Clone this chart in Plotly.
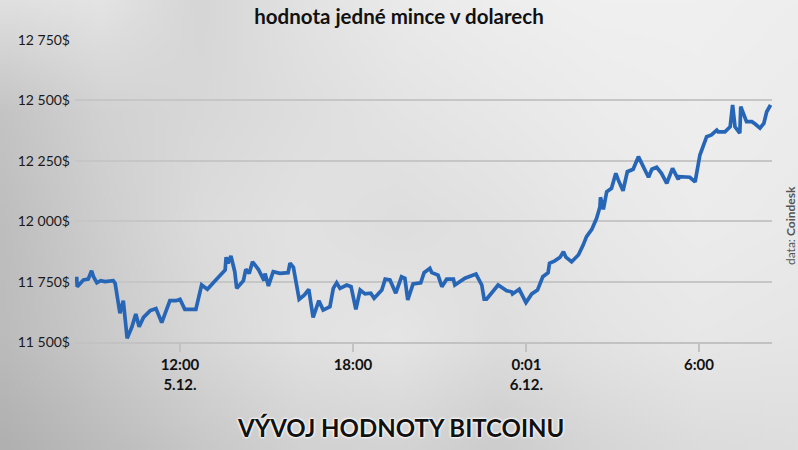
import base64, struct, zlib
import numpy as np
import plotly.graph_objects as go

# ---------------- data ----------------
times_d1 = ["08:25", "08:26", "08:39", "08:49", "08:56", "09:00", "09:07", "09:15", "09:24", "09:41",
            "09:45", "09:55", "10:02", "10:10", "10:20", "10:28", "10:35", "10:44", "10:58", "11:10",
            "11:22", "11:39", "11:52", "12:00", "12:10", "12:33", "12:45", "12:57", "13:16", "13:34",
            "13:36", "13:40", "13:46", "13:54", "13:58", "14:12", "14:17", "14:24", "14:31", "14:43",
            "14:55", "14:57", "15:04", "15:14", "15:28", "15:45", "15:49", "15:56", "16:08", "16:19",
            "16:28", "16:37", "16:49", "16:58", "17:12", "17:19", "17:26", "17:33", "17:47", "17:56",
            "18:06", "18:15", "18:25", "18:37", "18:44", "19:00", "19:07", "19:17", "19:29", "19:41",
            "19:48", "19:54", "20:05", "20:21", "20:28", "20:40", "20:44", "20:57", "21:05", "21:15",
            "21:29", "21:32", "21:53", "22:16", "22:28", "22:33", "22:38", "23:02", "23:20", "23:30",
            "23:32", "23:46"]
prices_d1 = [11770, 11729, 11757, 11760, 11795, 11770, 11745, 11754, 11750, 11754,
             11743, 11619, 11671, 11515, 11563, 11616, 11563, 11602, 11630, 11638,
             11580, 11671, 11671, 11677, 11635, 11635, 11736, 11718, 11760, 11798,
             11851, 11826, 11856, 11791, 11722, 11754, 11801, 11784, 11832, 11801,
             11754, 11784, 11732, 11791, 11784, 11787, 11826, 11809, 11677, 11695,
             11718, 11602, 11671, 11632, 11646, 11722, 11745, 11722, 11736, 11729,
             11635, 11715, 11699, 11702, 11681, 11715, 11760, 11757, 11702, 11770,
             11764, 11674, 11740, 11745, 11787, 11805, 11787, 11777, 11729, 11760,
             11760, 11736, 11764, 11781, 11736, 11677, 11677, 11736, 11712, 11708,
             11699, 11718]

times_d2 = ["00:00", "00:12", "00:24", "00:35", "00:46", "00:49", "01:00", "01:11", "01:18", "01:23",
            "01:35", "01:49", "01:59", "02:06", "02:17", "02:27", "02:34", "02:35", "02:41", "02:48",
            "02:58", "03:07", "03:12", "03:22", "03:31", "03:43", "03:54", "03:59", "04:04", "04:15",
            "04:22", "04:32", "04:42", "04:53", "05:05", "05:17", "05:19", "05:27", "05:41", "05:52",
            "06:02", "06:16", "06:26", "06:37", "06:40", "06:54", "07:05", "07:10", "07:15", "07:25",
            "07:27", "07:39", "07:50", "07:57", "08:07", "08:15", "08:21", "08:29"]
prices_d2 = [11663, 11699, 11715, 11770, 11787, 11826, 11836, 11851, 11874, 11851,
             11832, 11860, 11901, 11936, 11966, 12012, 12060, 12099, 12049, 12122,
             12136, 12198, 12171, 12126, 12205, 12215, 12267, 12246, 12233, 12182,
             12215, 12223, 12198, 12157, 12219, 12173, 12184, 12182, 12182, 12163,
             12274, 12350, 12357, 12377, 12370, 12370, 12391, 12481, 12391, 12364,
             12474, 12412, 12412, 12402, 12385, 12405, 12453, 12481]

y_ticks = [11500, 11750, 12000, 12250, 12500, 12750]
y_labels = ["11 500$", "11 750$", "12 000$", "12 250$", "12 500$", "12 750$"]
x_ticks = ["2017-12-05 12:00", "2017-12-05 18:00", "2017-12-06 00:01", "2017-12-06 06:00"]
x_labels = ["<b>12:00</b><br><b>5.12.</b>", "<b>18:00</b>", "<b>0:01</b><br><b>6.12.</b>", "<b>6:00</b>"]

x = ["2017-12-05 " + t for t in times_d1] + ["2017-12-06 " + t for t in times_d2]
y = prices_d1 + prices_d2

# ---------------- background (soft gray gradient) ----------------
grid = np.array([
    [224, 228, 214, 226, 234, 238, 240, 240, 238],
    [196, 210, 216, 222, 228, 232, 236, 238, 236],
    [190, 206, 220, 226, 222, 226, 232, 236, 234],
    [188, 202, 216, 226, 230, 222, 228, 232, 230],
    [176, 188, 200, 210, 212, 205, 214, 220, 222],
], dtype=float)
W, H = 200, 113
gy = np.linspace(0, grid.shape[0] - 1, H)
gx = np.linspace(0, grid.shape[1] - 1, W)
tmp = np.array([np.interp(gx, np.arange(grid.shape[1]), row) for row in grid])
img = np.array([np.interp(gy, np.arange(grid.shape[0]), tmp[:, i]) for i in range(W)]).T
img = np.clip(img, 0, 255).astype(np.uint8)


def to_png(a):
    h, w = a.shape
    raw = b"".join(b"\x00" + a[r].tobytes() for r in range(h))

    def chunk(t, d):
        c = struct.pack(">I", len(d)) + t + d
        return c + struct.pack(">I", zlib.crc32(t + d) & 0xffffffff)

    return (b"\x89PNG\r\n\x1a\n" + chunk(b"IHDR", struct.pack(">IIBBBBB", w, h, 8, 0, 0, 0, 0))
            + chunk(b"IDAT", zlib.compress(raw, 9)) + chunk(b"IEND", b""))


bg_src = "data:image/png;base64," + base64.b64encode(to_png(img)).decode()

# ---------------- figure ----------------
FW, FH = 798, 450
ML, MR, MT, MB = 75, 26, 40, 108
PW, PH = FW - ML - MR, FH - MT - MB

fig = go.Figure()
fig.add_trace(go.Scatter(x=x, y=y, mode="lines",
                         line=dict(color="#2766b6", width=3.7), hoverinfo="skip"))

font_family = "Lato, 'DejaVu Sans', sans-serif"

fig.update_layout(
    width=FW, height=FH,
    margin=dict(l=ML, r=MR, t=MT, b=MB, autoexpand=False),
    paper_bgcolor="#dedede", plot_bgcolor="rgba(0,0,0,0)",
    showlegend=False,
    font=dict(family=font_family, color="#1a1a1a"),
    title=dict(text="<b>hodnota jedné mince v dolarech</b>", xref="container", x=0.5,
               xanchor="center", yref="container", y=1 - 17 / FH, yanchor="middle",
               font=dict(size=20.5, color="#111111", family=font_family)),
    images=[dict(source=bg_src, xref="paper", yref="paper",
                 x=-ML / PW, y=1 + MT / PH, sizex=FW / PW, sizey=FH / PH,
                 xanchor="left", yanchor="top", sizing="stretch", layer="below")],
    xaxis=dict(range=["2017-12-05 08:21:30", "2017-12-06 08:32"],
               tickvals=x_ticks, ticktext=x_labels, automargin=False,
               showgrid=False, zeroline=False,
               showline=True, linecolor="#c2c2c2", linewidth=2,
               ticks="outside", ticklen=8, tickwidth=2, tickcolor="#c2c2c2",
               tickfont=dict(size=15, color="#111111")),
    yaxis=dict(range=[11500, 12750], tickvals=y_ticks, ticktext=y_labels,
               showgrid=True, gridcolor="#c6c6c6", gridwidth=2, automargin=False,
               zeroline=False, showline=False, ticks="", ticklabelstandoff=4,
               tickfont=dict(size=14, color="#1a1a1a")),
    annotations=[
        dict(text="<b>VÝVOJ HODNOTY BITCOINU</b>", xref="paper", yref="paper",
             x=(400 - ML) / PW, y=(342 - 428) / PH, xanchor="center", yanchor="middle",
             showarrow=False,
             font=dict(size=24, color="#111111", family=font_family,
                       shadow="0 0 3px #ffffff, 0 0 3px #ffffff, 0 0 2px #ffffff")),
        dict(text="data: <b>Coindesk</b>", xref="paper", yref="paper",
             x=(790 - ML) / PW, y=(342 - 226) / PH, xanchor="center", yanchor="middle",
             textangle=-90, showarrow=False,
             font=dict(size=12, color="#555555", family=font_family)),
    ],
)

fig.write_html("out.html", config={"displayModeBar": False},
               post_script="document.body.style.margin='0';")
